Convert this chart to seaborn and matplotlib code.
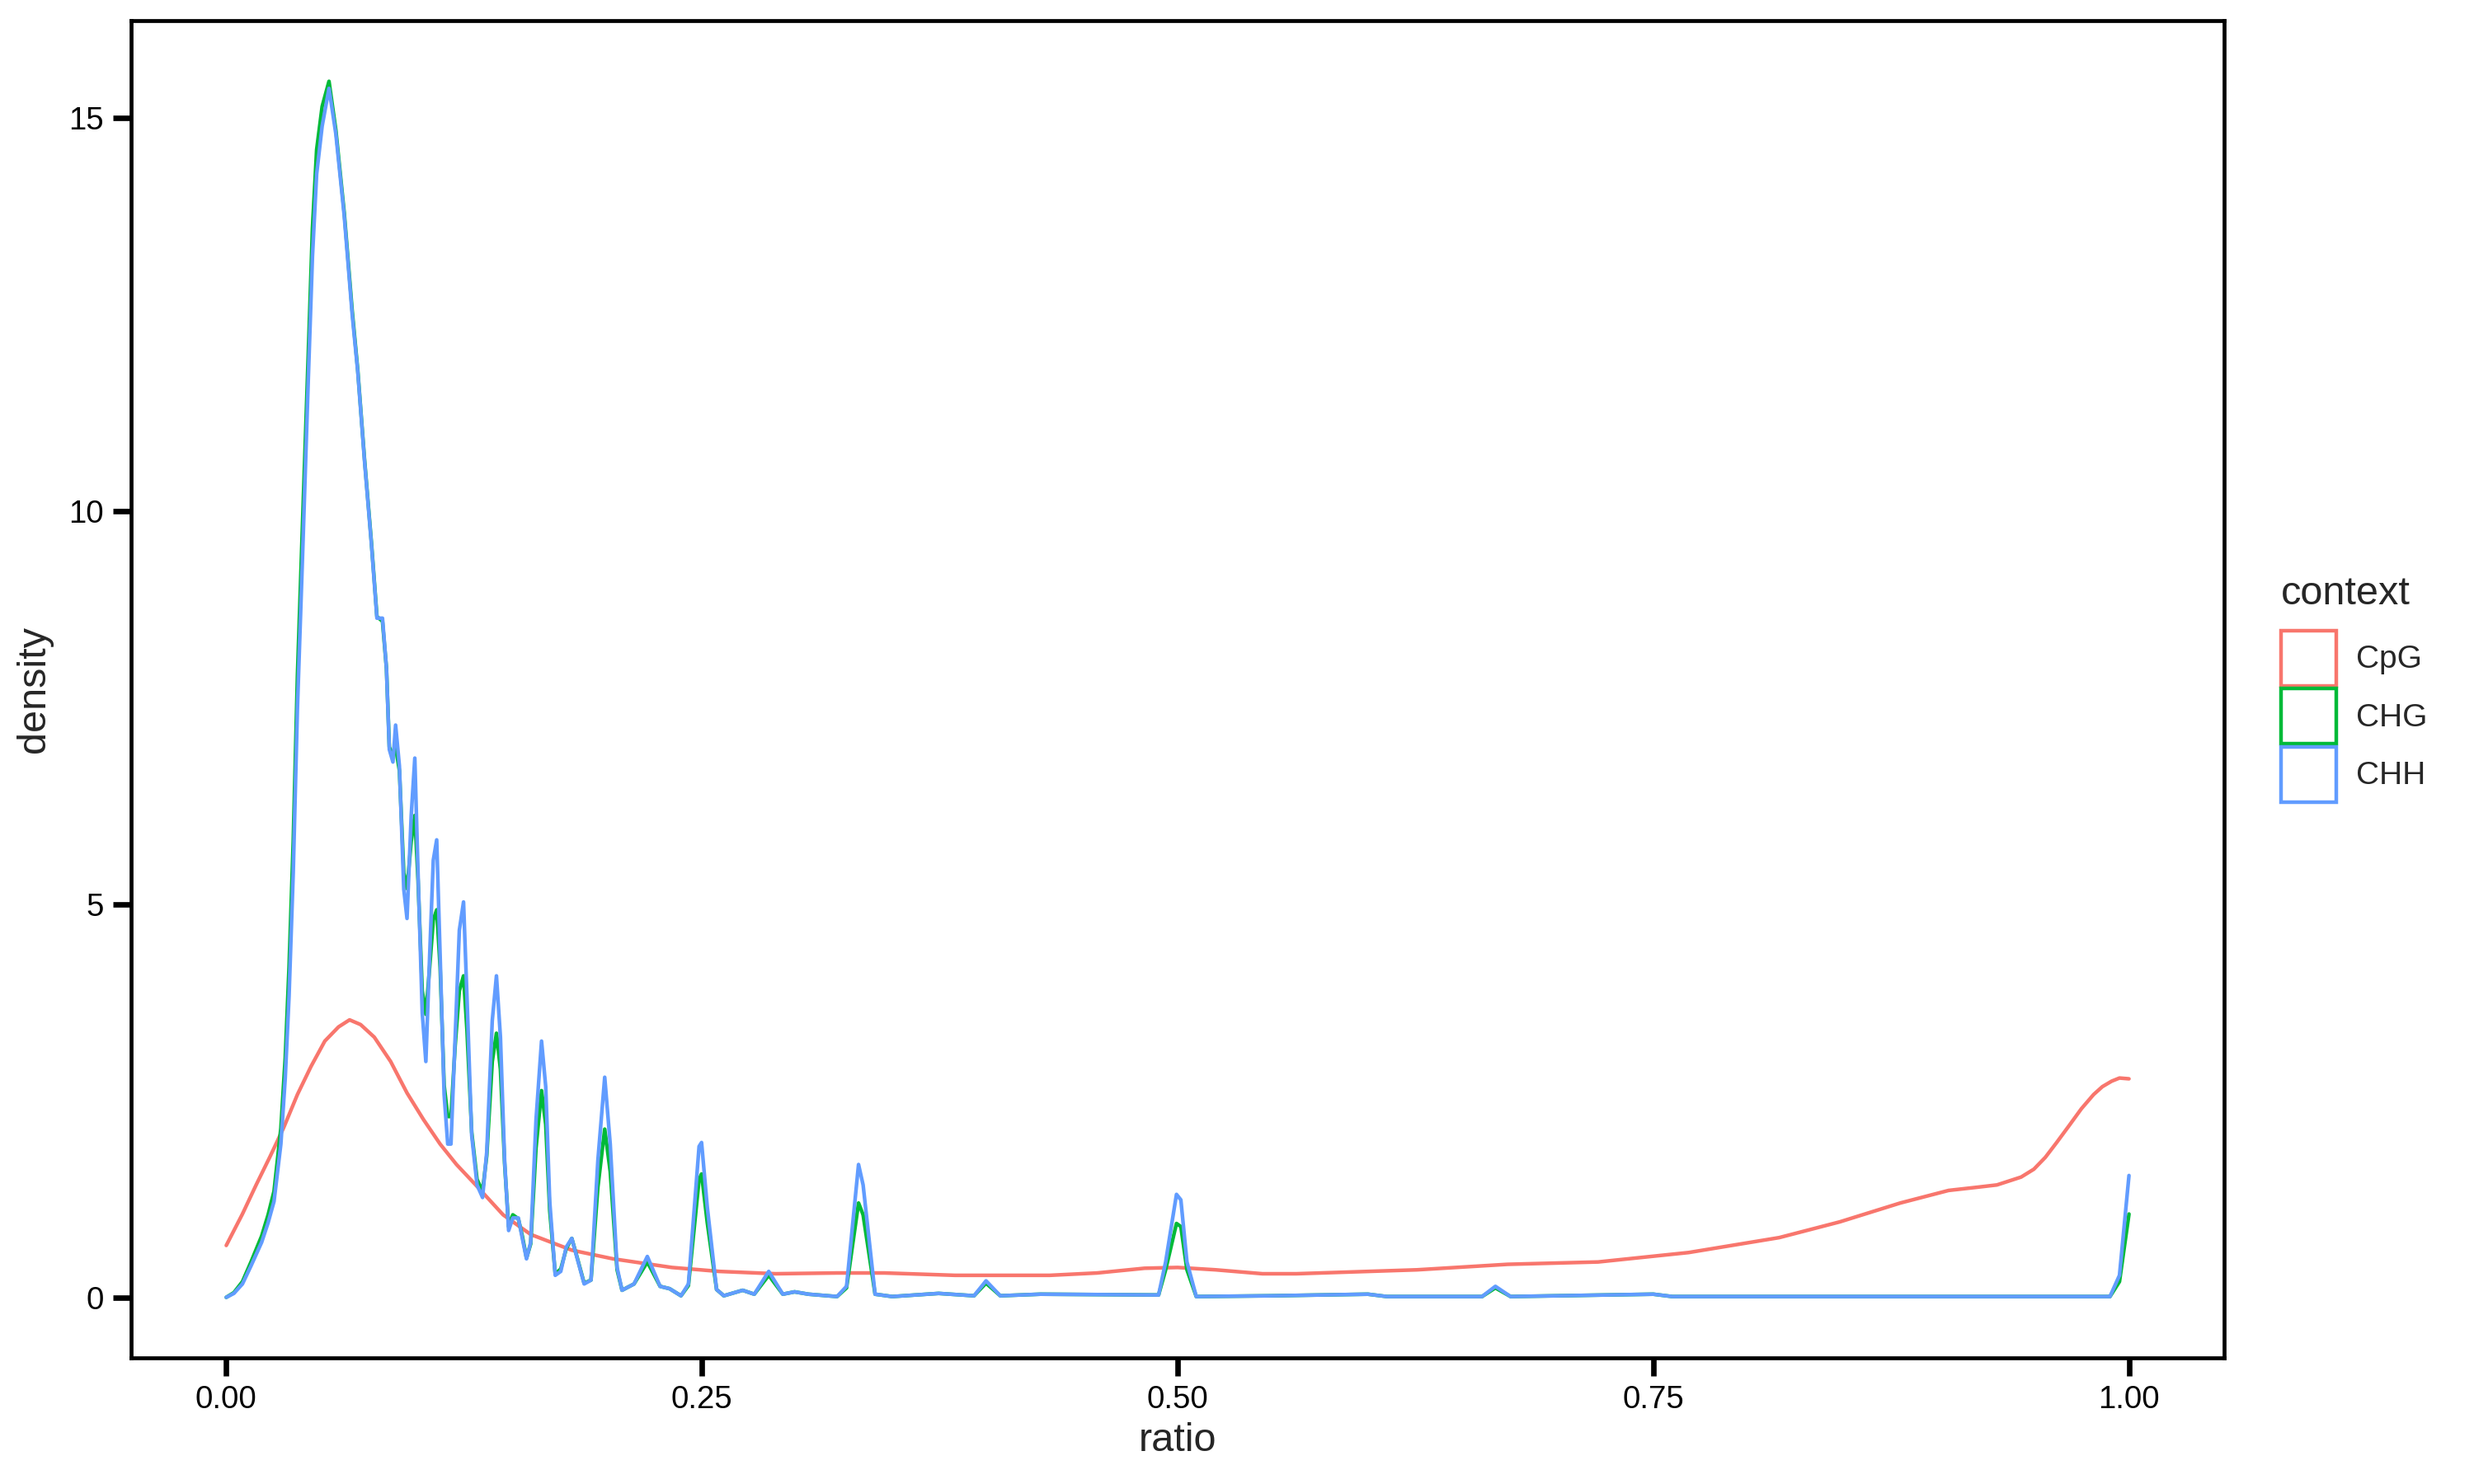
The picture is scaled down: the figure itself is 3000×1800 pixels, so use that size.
import numpy as np
import pandas as pd
import matplotlib.pyplot as plt
import seaborn as sns
from matplotlib.patches import Patch

# Densidades (ratio de metilación por contexto)
contextos = ["CpG", "CHG", "CHH"]
colores = ["#F8766D", "#00BA38", "#619CFF"]

ratio_cpg = [0.0, 0.0085, 0.0157, 0.023, 0.0302, 0.0374, 0.0446, 0.0518, 0.059,
             0.0648, 0.0706, 0.0778, 0.0864, 0.095, 0.1037, 0.1124, 0.121, 0.1311,
             0.1455, 0.16, 0.1816, 0.2032, 0.2342, 0.259, 0.2888, 0.321, 0.346,
             0.383, 0.4328, 0.4577, 0.4826, 0.5, 0.52, 0.5446, 0.5624, 0.6258,
             0.6734, 0.721, 0.7686, 0.8162, 0.848, 0.8798, 0.9052, 0.92, 0.9306,
             0.9433, 0.95, 0.956, 0.962, 0.9687, 0.975, 0.9814, 0.986, 0.9909,
             0.995, 1.0]
dens_cpg = [0.66, 1.06, 1.43, 1.79, 2.16, 2.58, 2.94, 3.26, 3.44,
            3.53, 3.47, 3.31, 3.0, 2.60, 2.26, 1.95, 1.69, 1.43,
            1.05, 0.80, 0.60, 0.49, 0.38, 0.33, 0.30, 0.31, 0.31,
            0.28, 0.28, 0.31, 0.37, 0.38, 0.35, 0.30, 0.30, 0.35,
            0.42, 0.45, 0.57, 0.76, 0.96, 1.20, 1.36, 1.40, 1.43,
            1.53, 1.63, 1.78, 1.97, 2.19, 2.40, 2.58, 2.68, 2.75,
            2.79, 2.78]

ratio_ch = [0.0, 0.004, 0.0085, 0.013, 0.0186, 0.022, 0.0251, 0.0287, 0.031, 0.033,
            0.0352, 0.0374, 0.0403, 0.0431, 0.0453, 0.0475, 0.0504, 0.054, 0.0576,
            0.062, 0.0662, 0.0691, 0.0727, 0.0763, 0.0792, 0.0821, 0.0842, 0.0857,
            0.0876, 0.089, 0.091, 0.0933, 0.095, 0.0972, 0.0991, 0.1008, 0.103,
            0.1049, 0.1069, 0.1088, 0.1106, 0.1124, 0.1145, 0.1164, 0.1181, 0.1203,
            0.1225, 0.1247, 0.1265, 0.129, 0.1318, 0.1347, 0.1369, 0.1398, 0.142,
            0.1441, 0.1463, 0.1484, 0.1506, 0.1535, 0.1556, 0.1578, 0.16, 0.1628,
            0.1657, 0.1679, 0.17, 0.1729, 0.1758, 0.1787, 0.1816, 0.1845, 0.1881,
            0.1917, 0.1953, 0.1989, 0.2018, 0.2054, 0.208, 0.2143, 0.2213, 0.228,
            0.233, 0.239, 0.2429, 0.2485, 0.2498, 0.2528, 0.2577, 0.2615, 0.2714,
            0.2775, 0.2851, 0.2925, 0.2987, 0.306, 0.321, 0.326, 0.3323, 0.3347,
            0.341, 0.35, 0.3744, 0.393, 0.3993, 0.4068, 0.4279, 0.49, 0.4937,
            0.4994, 0.5017, 0.5049, 0.5098, 0.55, 0.6, 0.61, 0.66, 0.667, 0.675,
            0.75, 0.76, 0.99, 0.995, 1.0]
dens_chh = [0.0, 0.05, 0.17, 0.40, 0.70, 0.95, 1.22, 1.95, 2.79, 3.83,
            5.40, 7.49, 9.58, 11.67, 13.24, 14.29, 14.90, 15.38, 14.80,
            13.76, 12.5, 11.78, 10.63, 9.58, 8.64, 8.64, 8.0, 6.97,
            6.81, 7.28, 6.76, 5.19, 4.82, 6.13, 6.86, 5.40, 3.62,
            3.0, 4.35, 5.56, 5.82, 4.35, 2.58, 1.95, 1.95, 3.31,
            4.67, 5.03, 3.83, 2.06, 1.43, 1.27, 1.85, 3.52, 4.09,
            3.31, 1.74, 0.85, 1.01, 1.01, 0.75, 0.49, 0.70, 2.26,
            3.26, 2.68, 1.22, 0.28, 0.33, 0.64, 0.75, 0.49, 0.17,
            0.22, 1.74, 2.80, 1.95, 0.38, 0.09, 0.17, 0.52, 0.14,
            0.11, 0.02, 0.17, 1.92, 1.97, 1.15, 0.10, 0.02, 0.09,
            0.04, 0.33, 0.04, 0.07, 0.04, 0.01, 0.14, 1.69, 1.43,
            0.04, 0.01, 0.05, 0.02, 0.21, 0.02, 0.04, 0.03, 0.45,
            1.31, 1.24, 0.45, 0.01, 0.02, 0.04, 0.01, 0.01, 0.14, 0.01,
            0.04, 0.01, 0.01, 0.28, 1.55]
dens_chg = [0.0, 0.06, 0.20, 0.45, 0.78, 1.05, 1.35, 2.15, 3.05, 4.20,
            5.80, 7.90, 10.0, 12.0, 13.6, 14.6, 15.15, 15.47, 14.85,
            13.8, 12.55, 11.8, 10.65, 9.6, 8.66, 8.6, 8.0, 7.0,
            6.9, 7.0, 6.7, 5.4, 5.2, 5.8, 6.13, 5.3, 3.9,
            3.6, 4.2, 4.8, 4.93, 4.2, 2.7, 2.3, 2.3, 3.2,
            3.9, 4.09, 3.4, 2.1, 1.5, 1.35, 1.8, 3.0, 3.36,
            2.9, 1.7, 0.9, 1.05, 1.0, 0.78, 0.5, 0.68, 1.9,
            2.63, 2.2, 1.1, 0.3, 0.36, 0.62, 0.75, 0.5, 0.18,
            0.22, 1.4, 2.14, 1.6, 0.35, 0.09, 0.17, 0.45, 0.14,
            0.11, 0.02, 0.15, 1.5, 1.57, 0.95, 0.10, 0.02, 0.09,
            0.04, 0.28, 0.04, 0.07, 0.04, 0.01, 0.12, 1.20, 1.05,
            0.04, 0.01, 0.05, 0.02, 0.18, 0.02, 0.04, 0.03, 0.35,
            0.94, 0.90, 0.35, 0.01, 0.02, 0.04, 0.01, 0.01, 0.12, 0.01,
            0.04, 0.01, 0.01, 0.20, 1.06]

xticks = [0, 0.25, 0.5, 0.75, 1]
xtick_labels = ["0.00", "0.25", "0.50", "0.75", "1.00"]
yticks = [0, 5, 10, 15]

df = pd.concat([
    pd.DataFrame({"ratio": ratio_cpg, "density": dens_cpg, "context": "CpG"}),
    pd.DataFrame({"ratio": ratio_ch, "density": dens_chg, "context": "CHG"}),
    pd.DataFrame({"ratio": ratio_ch, "density": dens_chh, "context": "CHH"}),
], ignore_index=True)

sns.set_style("white")
plt.rcParams['font.family'] = ['Liberation Sans', 'DejaVu Sans']

fig = plt.figure(figsize=(15, 9), dpi=200)
ax = fig.add_axes([0.053, 0.085, 0.846, 0.901])

sns.lineplot(data=df, x="ratio", y="density", hue="context", hue_order=contextos,
             palette=colores, estimator=None, sort=True, linewidth=1.6,
             legend=False, ax=ax)

ax.set_xlim(-0.05, 1.05)
ax.set_ylim(-0.77, 16.24)
ax.set_xticks(xticks)
ax.set_xticklabels(xtick_labels)
ax.set_yticks(yticks)
for s in ax.spines.values():
    s.set_visible(True)
    s.set_color("black")
    s.set_linewidth(1.7)
ax.tick_params(direction="out", length=8, width=2.4, color="black",
               labelsize=13.8, labelcolor="black", pad=4,
               bottom=True, left=True)
ax.set_xlabel("ratio", fontsize=17.5, labelpad=3)
ax.set_ylabel("density", fontsize=17.5, labelpad=7)

handles = [Patch(facecolor="white", edgecolor=c, linewidth=1.6, label=l)
           for c, l in zip(colores, contextos)]
leyenda = fig.legend(handles=handles, title="context", loc="center left",
                     bbox_to_anchor=(0.922, 0.536), frameon=False, fontsize=14,
                     title_fontsize=17.5, handlelength=1.71, handleheight=2.26,
                     labelspacing=0.1, handletextpad=0.64, alignment="left",
                     borderpad=0, borderaxespad=0)
leyenda._legend_box.sep = 8  # más aire entre título y cajas, como en ggplot

fig.savefig("out.png", dpi=200)
